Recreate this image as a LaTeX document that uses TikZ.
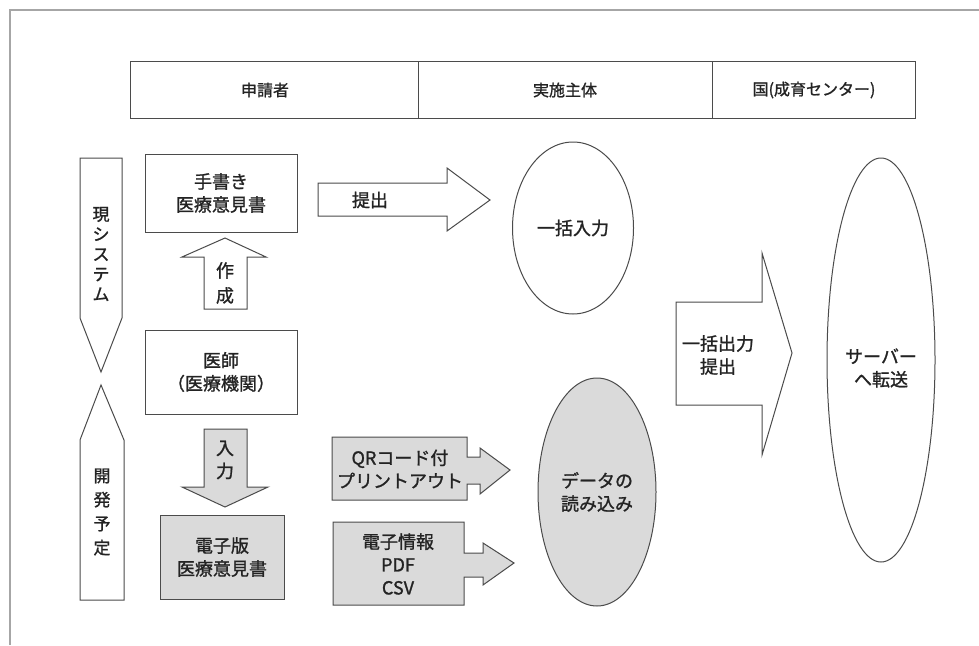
\documentclass[tikz,border=0pt]{standalone}
\usepackage{fontspec}
\setmainfont{Noto Sans CJK JP}[FakeBold=1.2]
\usetikzlibrary{shapes.geometric}
\definecolor{ln}{RGB}{75,75,75}
\definecolor{tx}{RGB}{35,35,35}
\definecolor{gf}{RGB}{218,218,218}
\begin{document}
\begin{tikzpicture}[x=1pt,y=-1pt,
  shp/.style={draw=ln,line width=1pt},
  lbl/.style={text=tx,font=\fontsize{18}{23}\selectfont,align=center,inner sep=0pt},
  hdr/.style={text=tx,font=\fontsize{16}{20}\selectfont,inner sep=0pt}]
\useasboundingbox (0,0) rectangle (979,645);
\fill[white] (0,0) rectangle (979,645);
% outer frame
\draw[color=gray!70,line width=1.5pt] (10,645) -- (10,10) -- (979,10);
% header
\draw[shp] (130,61) rectangle (915,118);
\draw[shp] (418,61) -- (418,118);
\draw[shp] (712,61) -- (712,118);
\node[hdr] (h1) at (265,90) {申請者};
\node[hdr] (h2) at (565,90) {実施主体};
\node[hdr] (h3) at (814,90) {国(成育センター)};
% left pentagons
\draw[shp] (80,158) -- (122,158) -- (122,318) -- (101,372) -- (80,318) -- cycle;
\node[lbl,font=\fontsize{17}{20}\selectfont] (cur) at (101,254) {現\\シ\\ス\\テ\\ム};
\draw[shp] (101,385) -- (124,440) -- (124,600) -- (80,600) -- (80,440) -- cycle;
\node[lbl,font=\fontsize{17}{24}\selectfont] (dev) at (102,512) {開\\発\\予\\定};
% boxes
\draw[shp] (145,154) rectangle (297,232);
\node[lbl] (tegaki) at (221,193) {手書き\\医療意見書};
\draw[shp] (145,330) rectangle (297,414);
\node[lbl] (ishi) at (221,372) {医師\\（医療機関）};
\draw[shp,fill=gf] (160,515) rectangle (284,599);
\node[lbl] (denshi) at (222,557) {電子版\\医療意見書};
% up arrow 作成
\draw[shp] (204,309) -- (247,309) -- (247,257) -- (266,257) -- (225,238) -- (182,257) -- (204,257) -- cycle;
\node[lbl,font=\fontsize{18}{25}\selectfont] (sakusei) at (225,283) {作\\成};
% down arrow 入力
\draw[shp,fill=gf] (204,429) -- (247,429) -- (247,487) -- (268,487) -- (225,507) -- (182,487) -- (204,487) -- cycle;
\node[lbl] (nyuryoku) at (225,460) {入\\力};
% arrow 提出
\draw[shp] (318,183) -- (447,183) -- (447,168) -- (490,200) -- (447,231) -- (447,216) -- (318,216) -- cycle;
\node[lbl] (teishutsu) at (370,200) {提出};
% QR box + arrow
\draw[shp,fill=gf] (332,437) -- (467,437) -- (467,457) -- (480,457) -- (480,448) -- (510,470) -- (480,494) -- (480,484) -- (467,484) -- (467,500) -- (332,500) -- cycle;
\node[lbl] (qr) at (400,469) {QRコード付\\プリントアウト};
% electronic info box + arrow
\draw[shp,fill=gf] (333,522) -- (464,522) -- (464,553) -- (483,553) -- (483,543) -- (514,563) -- (483,585) -- (483,577) -- (464,577) -- (464,605) -- (333,605) -- cycle;
\node[lbl] (einfo) at (398,564) {電子情報\\PDF\\CSV};
% ellipses
\node[shp,ellipse,minimum width=121pt,minimum height=172pt,inner sep=0pt] (ikkatsu) at (573,228) {};
\node[lbl] at (ikkatsu.center) {一括入力};
\node[shp,ellipse,fill=gf,minimum width=118pt,minimum height=228pt,inner sep=0pt] (yomikomi) at (597,492) {};
\node[lbl] at (yomikomi.center) {データの\\読み込み};
\node[shp,ellipse,minimum width=108pt,minimum height=404pt,inner sep=0pt] (server) at (881,360) {};
\node[lbl] at ([yshift=-8pt]server.center) {サーバー\\へ転送};
% big arrow
\draw[shp] (676,302) -- (762,302) -- (762,253) -- (792,353) -- (762,455) -- (762,405) -- (676,405) -- cycle;
\node[lbl] (ikkatsuout) at (718,355) {一括出力\\提出};
\end{tikzpicture}
\end{document}
